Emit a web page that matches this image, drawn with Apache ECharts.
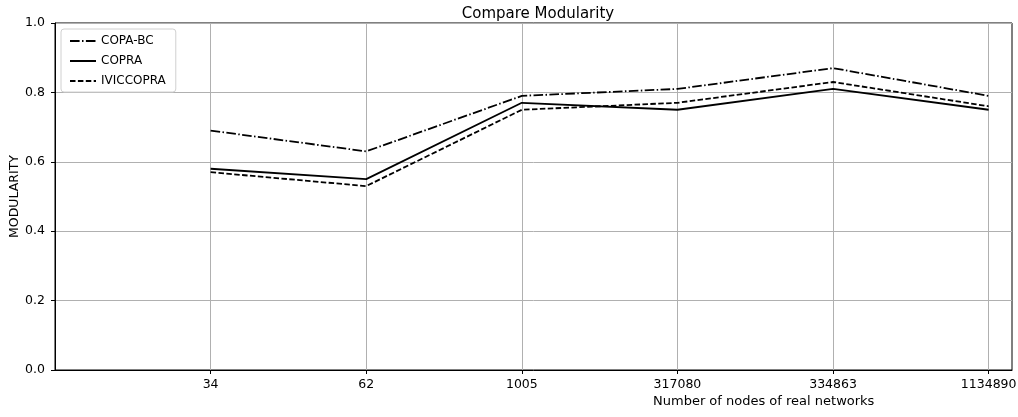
<!DOCTYPE html>
<html>
<head>
<meta charset="utf-8">
<script src="https://cdn.jsdelivr.net/npm/echarts@6/dist/echarts.min.js"></script>
<style>
  html, body { margin: 0; padding: 0; background: #fff; }
  #chart { width: 1018px; height: 417px; }
</style>
</head>
<body>
<div id="chart"></div>
<script>
// network sizes on the x axis
const categories = ['34', '62', '1005', '317080', '334863', '1134890'];
const copaBC = [0.69, 0.63, 0.79, 0.81, 0.87, 0.79];
const copra = [0.58, 0.55, 0.77, 0.75, 0.81, 0.75];
const iviccopra = [0.57, 0.53, 0.75, 0.77, 0.83, 0.76];

const font = 'DejaVu Sans';
const toPoints = arr => arr.map((v, i) => [i, v]);

function lineSeries(name, values, type) {
    return {
        name: name,
        type: 'line',
        data: toPoints(values),
        symbol: 'none',
        lineStyle: { color: '#000', width: 1.8, type: type },
        itemStyle: { color: '#000' },
        emphasis: { disabled: true }
    };
}

const chart = echarts.init(document.getElementById('chart'));

chart.setOption({
    animation: false,
    backgroundColor: '#fff',
    title: {
        text: 'Compare Modularity',
        left: 533,
        textAlign: 'center',
        top: 2,
        textStyle: { fontFamily: font, fontSize: 15, fontWeight: 'normal', color: '#000' }
    },
    grid: {
        left: 55, right: 6, top: 23, bottom: 47,
        show: true, borderColor: '#000', borderWidth: 1,
        containLabel: false,
        outerBoundsMode: 'none'
    },
    legend: {
        orient: 'vertical',
        left: 61, top: 29,
        padding: [6, 10, 5, 8],
        itemWidth: 26, itemHeight: 10, itemGap: 8,
        borderColor: '#d0d0d0', borderWidth: 1, borderRadius: 3,
        backgroundColor: 'rgba(255,255,255,0.8)',
        itemStyle: { color: 'transparent', borderWidth: 0 },
        textStyle: { fontFamily: font, fontSize: 12, color: '#000' },
        data: ['COPA-BC', 'COPRA', 'IVICCOPRA']
    },
    graphic: [{
        type: 'text',
        left: 653, top: 395,
        style: { text: 'Number of nodes of real networks', font: '13px "DejaVu Sans"', fill: '#000' }
    }],
    xAxis: {
        type: 'value',
        min: -1, max: 5.15, interval: 1,
        axisLine: { show: true, onZero: false, lineStyle: { color: '#000', width: 1 } },
        axisTick: { show: true, length: 4, lineStyle: { color: '#000' }, customValues: [0, 1, 2, 3, 4, 5] },
        axisLabel: {
            customValues: [0, 1, 2, 3, 4, 5],
            fontFamily: font, fontSize: 12.5, color: '#000', margin: 8,
            formatter: v => (Number.isInteger(v) && v >= 0 && v < categories.length) ? categories[v] : ''
        },
        splitLine: { show: true, lineStyle: { color: '#b0b0b0', width: 1 } }
    },
    yAxis: {
        type: 'value',
        min: 0, max: 1, interval: 0.2,
        name: 'MODULARITY',
        nameLocation: 'middle',
        nameGap: 34,
        nameMoveOverlap: false,
        nameTextStyle: { fontFamily: font, fontSize: 12.5, color: '#000' },
        axisLine: { show: true, onZero: false, lineStyle: { color: '#000', width: 1 } },
        axisTick: { show: true, length: 4, lineStyle: { color: '#000' } },
        axisLabel: {
            fontFamily: font, fontSize: 12.5, color: '#000', margin: 10,
            formatter: v => v.toFixed(1)
        },
        splitLine: { show: true, lineStyle: { color: '#b0b0b0', width: 1 } }
    },
    series: [
        lineSeries('COPA-BC', copaBC, [9.6, 2.4, 1.5, 2.4]),
        lineSeries('COPRA', copra, 'solid'),
        lineSeries('IVICCOPRA', iviccopra, [5.5, 2.4])
    ]
});
</script>
</body>
</html>
